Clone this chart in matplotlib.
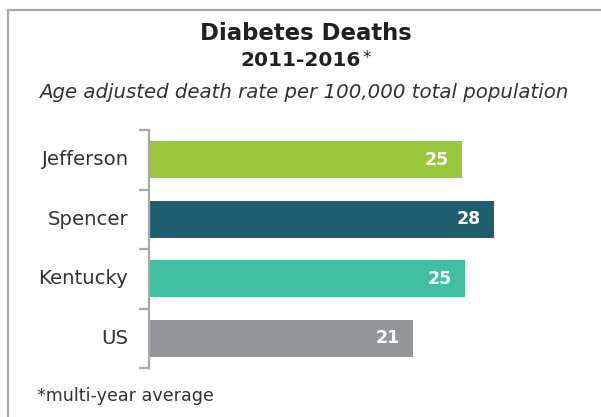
import matplotlib
matplotlib.use("Agg")
import matplotlib.pyplot as plt
from matplotlib.lines import Line2D

categories = ["Jefferson", "Spencer", "Kentucky", "US"]
values = [25.3, 27.9, 25.5, 21.3]
value_labels = ["25", "28", "25", "21"]
colors = ["#9AC73C", "#1F5E6E", "#40BFA1", "#939598"]

title = "Diabetes Deaths"
subtitle_years = "2011-2016"
subtitle = "Age adjusted death rate per 100,000 total population"
footnote = "*multi-year average"

W, H = 601, 417
fig = plt.figure(figsize=(W / 100, H / 100), dpi=100)
FONT = "DejaVu Sans"

# frame lines (top and left border)
fig.add_artist(Line2D([8 / W, 1], [1 - 9.5 / H, 1 - 9.5 / H], color="#a7a7a7", lw=1.6))
fig.add_artist(Line2D([8 / W, 8 / W], [0, 1 - 9.5 / H], color="#a7a7a7", lw=1.6))

# axes: left=149px, top=130px, bottom=368px
left, top, bottom = 149, 130, 368
xmax = 35
pxu = 345 / 27.9
right = left + xmax * pxu
ax = fig.add_axes([left / W, 1 - bottom / H, (right - left) / W, (bottom - top) / H])
y = list(range(len(categories)))
ax.barh(y, values, height=0.62, color=colors, left=0)
ax.set_ylim(3.5, -0.5)
ax.set_xlim(-0.1, xmax)
for s in ["top", "right", "bottom"]:
    ax.spines[s].set_visible(False)
ax.spines["left"].set_color("#a9a9ab")
ax.spines["left"].set_linewidth(1.6)
ax.set_xticks([])
ax.set_yticks([-0.5, 0.5, 1.5, 2.5, 3.5])
ax.set_yticklabels([])
ax.tick_params(axis="y", length=7, width=1.6, color="#a9a9ab")
ax.patch.set_alpha(0)
for yi, cat in zip(y, categories):
    ax.text(-22 / pxu, yi, cat, ha="right", va="center", fontsize=14.2,
            color="#333333", family=FONT)
for yi, v, lab in zip(y, values, value_labels):
    ax.text(v - 13 / pxu, yi, lab, ha="right", va="center", fontsize=12.5,
            color="white", fontweight="bold", family=FONT)

# titles
fig.text(306 / W, 1 - 33 / H, title, ha="center", va="center", fontsize=16.4,
         fontweight="bold", color="#231F20", family=FONT)
yr = fig.text(301 / W, 1 - 61 / H, subtitle_years, ha="center", va="center", fontsize=14.5,
              fontweight="bold", color="#231F20", family=FONT)
fig.canvas.draw()
bb = yr.get_window_extent()
fig.text((bb.x1 + 1) / W, 1 - 58 / H, "*", ha="left", va="center", fontsize=12,
         color="#231F20", family=FONT)
fig.text(304 / W, 1 - 93 / H, subtitle, ha="center", va="center", fontsize=14.2,
         style="italic", color="#333333", family=FONT)
fig.text(37 / W, 1 - 396 / H, footnote, ha="left", va="center", fontsize=12.6,
         color="#333333", family=FONT)

fig.savefig("out.png", dpi=100)
